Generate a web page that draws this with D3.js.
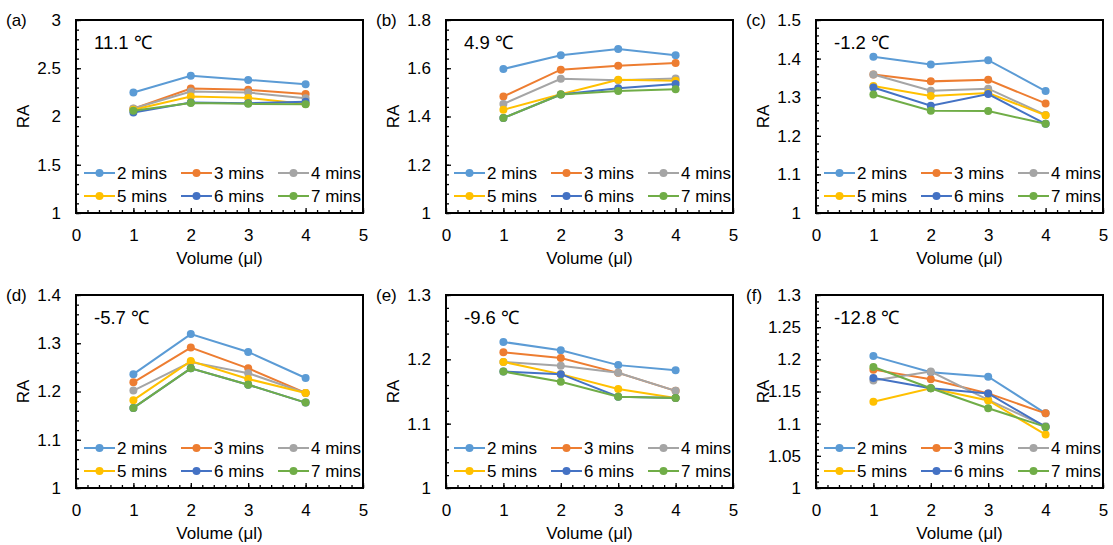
<!DOCTYPE html>
<html>
<head>
<meta charset="utf-8">
<script src="https://cdn.jsdelivr.net/npm/d3@7"></script>
<style>
  html, body { margin: 0; padding: 0; background: #fff; }
  svg { display: block; font-family: "Liberation Sans", Arial, sans-serif; }
</style>
</head>
<body>
<svg id="chart" width="1113" height="545"></svg>
<script>
// Volumes on the x axis and the exposure times drawn as series
const volumes = [1, 2, 3, 4];
const seriesNames = ["2 mins", "3 mins", "4 mins", "5 mins", "6 mins", "7 mins"];
const seriesColors = ["#5B9BD5", "#ED7D31", "#A5A5A5", "#FFC000", "#4472C4", "#70AD47"];
const xTicks = [0, 1, 2, 3, 4, 5];

// RA per series (rows: 2..7 mins, columns: 1..4 µl)
const raA = [
  [2.248, 2.421, 2.379, 2.334],
  [2.080, 2.290, 2.276, 2.234],
  [2.083, 2.259, 2.248, 2.190],
  [2.070, 2.207, 2.193, 2.130],
  [2.041, 2.145, 2.138, 2.152],
  [2.059, 2.141, 2.131, 2.128]
];
const raB = [
  [1.597, 1.654, 1.680, 1.654],
  [1.483, 1.594, 1.610, 1.622],
  [1.452, 1.556, 1.550, 1.557],
  [1.428, 1.492, 1.552, 1.548],
  [1.394, 1.491, 1.517, 1.535],
  [1.394, 1.491, 1.506, 1.513]
];
const raC = [
  [1.405, 1.385, 1.396, 1.316],
  [1.359, 1.341, 1.345, 1.284],
  [1.359, 1.317, 1.322, 1.254],
  [1.329, 1.303, 1.311, 1.253],
  [1.325, 1.278, 1.308, 1.231],
  [1.307, 1.265, 1.264, 1.231]
];
const raD = [
  [1.236, 1.319, 1.282, 1.228],
  [1.219, 1.291, 1.248, 1.197],
  [1.202, 1.261, 1.238, 1.197],
  [1.182, 1.263, 1.226, 1.197],
  [1.166, 1.248, 1.214, 1.177],
  [1.166, 1.248, 1.214, 1.177]
];
const raE = [
  [1.227, 1.214, 1.191, 1.183],
  [1.211, 1.202, 1.179, 1.151],
  [1.196, 1.190, 1.179, 1.151],
  [1.196, 1.177, 1.154, 1.140],
  [1.181, 1.177, 1.142, 1.140],
  [1.181, 1.165, 1.142, 1.140]
];
const raF = [
  [1.205, 1.180, 1.173, 1.116],
  [1.184, 1.169, 1.147, 1.116],
  [1.167, 1.181, 1.137, 1.096],
  [1.134, 1.155, 1.136, 1.083],
  [1.171, 1.155, 1.147, 1.095],
  [1.188, 1.155, 1.124, 1.095]
];

// Y tick labels for each panel
const yTicksA = [1, 1.5, 2, 2.5, 3];
const yTicksB = [1, 1.2, 1.4, 1.6, 1.8];
const yTicksC = [1, 1.1, 1.2, 1.3, 1.4, 1.5];
const yTicksD = [1, 1.1, 1.2, 1.3, 1.4];
const yTicksE = [1, 1.1, 1.2, 1.3];
const yTicksF = [1, 1.05, 1.1, 1.15, 1.2, 1.25, 1.3];

const panelLetters = ["(a)", "(b)", "(c)", "(d)", "(e)", "(f)"];
const temperatures = ["11.1 \u2103", "4.9 \u2103", "-1.2 \u2103", "-5.7 \u2103", "-9.6 \u2103", "-12.8 \u2103"];

const panels = [
  { letter: panelLetters[0], temp: temperatures[0], data: raA, yTicks: yTicksA, minor: 0.1 },
  { letter: panelLetters[1], temp: temperatures[1], data: raB, yTicks: yTicksB, minor: 0.04 },
  { letter: panelLetters[2], temp: temperatures[2], data: raC, yTicks: yTicksC, minor: 0.02 },
  { letter: panelLetters[3], temp: temperatures[3], data: raD, yTicks: yTicksD, minor: 0.02 },
  { letter: panelLetters[4], temp: temperatures[4], data: raE, yTicks: yTicksE, minor: 0.02 },
  { letter: panelLetters[5], temp: temperatures[5], data: raF, yTicks: yTicksF, minor: 0.01 }
];

const svg = d3.select("#chart");
const colLeft = [76, 446, 816];
const rowTop = [20, 295];
const plotW = 287, plotH = 193;

panels.forEach((p, i) => {
  const ox = colLeft[i % 3], oy = rowTop[Math.floor(i / 3)];
  const g = svg.append("g").attr("transform", `translate(${ox},${oy})`);

  const yMin = d3.min(p.yTicks), yMax = d3.max(p.yTicks);
  const x = d3.scaleLinear().domain([0, 5]).range([0, plotW]);
  const y = d3.scaleLinear().domain([yMin, yMax]).range([plotH, 0]);

  // minor ticks (inside)
  const nMinY = Math.round((yMax - yMin) / p.minor);
  const minorY = d3.range(nMinY + 1).map(k => yMin + k * p.minor);
  const minorX = d3.range(26).map(k => k * 0.2);

  g.append("g")
    .call(d3.axisRight(y).tickValues(minorY).tickSize(3).tickFormat(""))
    .call(a => a.select(".domain").remove())
    .selectAll("line").attr("stroke", "#000").attr("stroke-width", 1.3);
  g.append("g").attr("transform", `translate(0,${plotH})`)
    .call(d3.axisTop(x).tickValues(minorX).tickSize(3).tickFormat(""))
    .call(a => a.select(".domain").remove())
    .selectAll("line").attr("stroke", "#000").attr("stroke-width", 1.3);

  // major axes with labels
  const yAxis = g.append("g")
    .call(d3.axisLeft(y).tickValues(p.yTicks).tickSizeInner(-5).tickSizeOuter(0)
      .tickPadding(15).tickFormat(d3.format("~g")));
  yAxis.select(".domain").remove();
  yAxis.selectAll("line").attr("stroke", "#000").attr("stroke-width", 1.3);
  yAxis.selectAll("text").attr("font-size", 17).attr("fill", "#000")
    .attr("font-family", "Liberation Sans, Arial, sans-serif");

  const xAxis = g.append("g").attr("transform", `translate(0,${plotH})`)
    .call(d3.axisBottom(x).tickValues(xTicks).tickSizeInner(-5).tickSizeOuter(0)
      .tickPadding(16).tickFormat(d3.format("d")));
  xAxis.select(".domain").remove();
  xAxis.selectAll("line").attr("stroke", "#000").attr("stroke-width", 1.3);
  xAxis.selectAll("text").attr("font-size", 17).attr("fill", "#000")
    .attr("font-family", "Liberation Sans, Arial, sans-serif");

  // plot frame
  g.append("rect").attr("x", 0).attr("y", 0).attr("width", plotW).attr("height", plotH)
    .attr("fill", "none").attr("stroke", "#000").attr("stroke-width", 2);

  // series lines and markers
  const line = d3.line().x((d, k) => x(volumes[k])).y(d => y(d));
  p.data.forEach((vals, s) => {
    g.append("path").attr("d", line(vals)).attr("fill", "none")
      .attr("stroke", seriesColors[s]).attr("stroke-width", 2);
    g.selectAll(null).data(vals).enter().append("circle")
      .attr("cx", (d, k) => x(volumes[k])).attr("cy", d => y(d)).attr("r", 4)
      .attr("fill", seriesColors[s]);
  });

  // legend, two rows of three entries
  seriesNames.forEach((name, s) => {
    const lx = 8 + (s % 3) * 97;
    const ly = plotH - 40 + Math.floor(s / 3) * 23;
    const lg = g.append("g").attr("transform", `translate(${lx},${ly})`);
    lg.append("line").attr("x1", 0).attr("x2", 31).attr("y1", 0).attr("y2", 0)
      .attr("stroke", seriesColors[s]).attr("stroke-width", 2);
    lg.append("circle").attr("cx", 15.5).attr("cy", 0).attr("r", 4).attr("fill", seriesColors[s]);
    lg.append("text").attr("x", 33).attr("y", 0).attr("dy", "0.35em")
      .attr("font-size", 17).attr("fill", "#000").text(name);
  });

  // temperature tag
  g.append("text").attr("x", 18).attr("y", 29).attr("font-size", 18.5).attr("fill", "#000").text(p.temp);

  // axis titles and panel letter
  g.append("text").attr("x", plotW / 2).attr("y", plotH + 51).attr("text-anchor", "middle")
    .attr("font-size", 17).attr("fill", "#000").text("Volume (\u03bcl)");
  g.append("text").attr("transform", `translate(${-53},${plotH / 2}) rotate(-90)`)
    .attr("text-anchor", "middle").attr("dy", "0.35em")
    .attr("font-size", 17).attr("fill", "#000").text("RA");
  g.append("text").attr("x", -70).attr("y", 0).attr("dy", "0.35em")
    .attr("font-size", 17).attr("fill", "#000").text(p.letter);
});
</script>
</body>
</html>
